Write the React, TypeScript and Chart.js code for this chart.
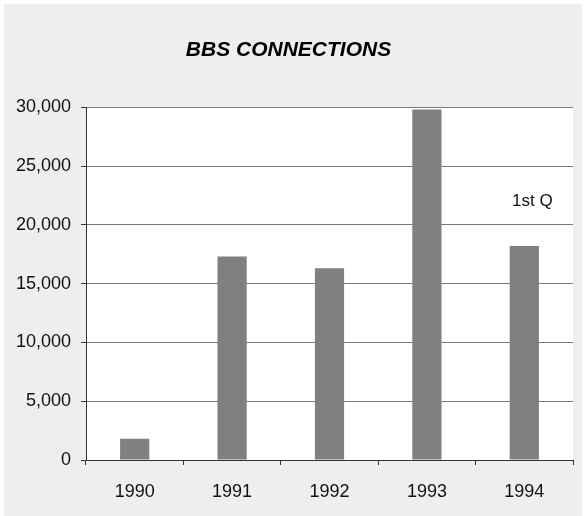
import React, { useEffect, useRef } from "react";
import { Chart, registerables } from "chart.js";

Chart.register(...registerables);

const categories = ["1990", "1991", "1992", "1993", "1994"];
const connections = [1800, 17300, 16300, 29800, 18200];
const annotationText = "1st Q";
const annotationIndex = 4;
const annotationValue = 22000;
const chartTitle = "BBS CONNECTIONS";

const FONT = "'Liberation Sans', Arial, Helvetica, sans-serif";

export default function App() {
  const ref = useRef<HTMLCanvasElement | null>(null);

  useEffect(() => {
    if (!ref.current) return;
    const annotationPlugin = {
      id: "noteLabel",
      afterDatasetsDraw(chart: any) {
        const { ctx, scales } = chart;
        const x = scales.x.getPixelForValue(annotationIndex) + 8;
        const y = scales.y.getPixelForValue(annotationValue);
        ctx.save();
        ctx.font = `17px ${FONT}`;
        ctx.fillStyle = "#111";
        ctx.textAlign = "center";
        ctx.textBaseline = "middle";
        ctx.fillText(annotationText, x, y);
        ctx.restore();
      },
    };
    const bgPlugin = {
      id: "plotBg",
      beforeDraw(chart: any) {
        const { ctx, chartArea } = chart;
        ctx.save();
        ctx.fillStyle = "#ffffff";
        ctx.fillRect(chartArea.left, chartArea.top, chartArea.right - chartArea.left, chartArea.bottom - chartArea.top);
        ctx.restore();
      },
    };
    const chart = new Chart(ref.current, {
      type: "bar",
      data: {
        labels: categories,
        datasets: [
          {
            data: connections,
            backgroundColor: "#808080",
            borderWidth: 0,
            barPercentage: 0.3,
            categoryPercentage: 1,
          },
        ],
      },
      plugins: [bgPlugin, annotationPlugin],
      options: {
        animation: false,
        responsive: false,
        maintainAspectRatio: false,
        layout: { padding: { top: 0, right: 9, bottom: 0, left: 0 } },
        plugins: {
          legend: { display: false },
          tooltip: { enabled: false },
          title: {
            display: true,
            text: chartTitle,
            color: "#000",
            font: { family: FONT, size: 21, weight: "bold", style: "italic" },
            padding: { top: 34, bottom: 44 },
          },
        },
        scales: {
          x: {
            afterFit: (s: any) => {
              s.height = 56;
            },
            grid: {
              drawOnChartArea: false,
              drawTicks: true,
              tickLength: 5,
              tickColor: "#333",
              offset: true,
            },
            border: { color: "#333", width: 1 },
            ticks: {
              color: "#111",
              font: { family: FONT, size: 18 },
              padding: 16,
              maxRotation: 0,
            },
          },
          y: {
            min: 0,
            max: 30000,
            afterFit: (s: any) => {
              s.width = 82;
            },
            grid: {
              color: "#7a7a7a",
              lineWidth: 1,
              drawTicks: true,
              tickLength: 5,
              tickColor: "#333",
            },
            border: { color: "#333", width: 1 },
            ticks: {
              stepSize: 5000,
              color: "#111",
              font: { family: FONT, size: 18 },
              padding: 10,
              callback: (v: any) => Number(v).toLocaleString("en-US"),
            },
          },
        },
      },
    });
    return () => chart.destroy();
  }, []);

  return (
    <div
      style={{
        position: "absolute",
        left: 4,
        top: 4,
        width: 578,
        height: 512,
        background: "#eeeeee",
      }}
    >
      <canvas ref={ref} width={578} height={512} style={{ display: "block" }} />
    </div>
  );
}
